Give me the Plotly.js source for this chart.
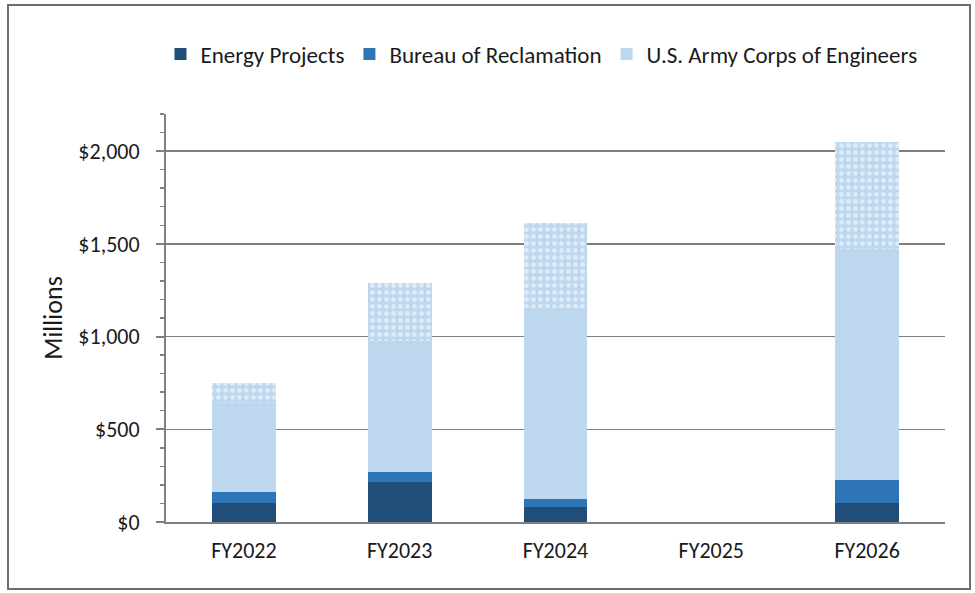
<!DOCTYPE html>
<html>
<head>
<meta charset="utf-8">
<script src="https://cdn.plot.ly/plotly-3.0.1.min.js"></script>
<style>
  html, body { margin: 0; padding: 0; background: #fff; }
  #frame { position: absolute; left: 7px; top: 4px; width: 964px; height: 586px; border: 2px solid #6e6e6e; box-sizing: border-box; }
  #chart { position: absolute; left: 0; top: 0; width: 960px; height: 582px; }
</style>
</head>
<body>
<div id="frame"><div id="chart"></div></div>
<script>
const categories = ["FY2022", "FY2023", "FY2024", "FY2025", "FY2026"];
const energyProjects = [101, 217, 79, null, 101];
const bureauOfReclamation = [62, 51, 43, null, 125];
const armyCorps = [478, 707, 1030, null, 1244];
const armyCorpsPatterned = [107, 312, 461, null, 579];
const yTickVals = [0, 500, 1000, 1500, 2000];
const yTickText = ["$0", "$500", "$1,000", "$1,500", "$2,000"];

const FONT = "Carlito, Calibri, Lato, 'Liberation Sans', sans-serif";

const traces = [
  { type: "bar", name: "Energy Projects", x: categories, y: energyProjects,
    marker: { color: "#1F4E79", line: { width: 0 } } },
  { type: "bar", name: "Bureau of Reclamation", x: categories, y: bureauOfReclamation,
    marker: { color: "#2E75B6", line: { width: 0 } } },
  { type: "bar", name: "U.S. Army Corps of Engineers", x: categories, y: armyCorps,
    marker: { color: "#BDD7EE", line: { width: 0 } } },
  { type: "bar", name: "U.S. Army Corps of Engineers (additional)", x: categories, y: armyCorpsPatterned,
    showlegend: false,
    marker: { color: "#BDD7EE", line: { width: 0 },
      pattern: { shape: ".", fillmode: "overlay", fgcolor: "#ffffff", bgcolor: "#BDD7EE", size: 7, solidity: 0.4 } } }
];

const layout = {
  width: 960, height: 582,
  barmode: "stack",
  bargap: 0.59,
  paper_bgcolor: "#ffffff",
  plot_bgcolor: "#ffffff",
  margin: { l: 157, r: 24, t: 108, b: 66 },
  font: { family: FONT, size: 22, color: "#1a1a1a" },
  showlegend: true,
  legend: {
    orientation: "h", x: 0.482, xanchor: "center", y: 1.147, yanchor: "middle",
    font: { family: FONT, size: 23, color: "#1a1a1a" },
    traceorder: "normal", itemwidth: 30
  },
  xaxis: {
    type: "category",
    showline: true, linecolor: "#7f7f7f", linewidth: 2,
    ticks: "", showgrid: false,
    ticklabelstandoff: 8,
    tickfont: { family: FONT, size: 22, color: "#1a1a1a" }
  },
  yaxis: {
    range: [0, 2200],
    tickvals: yTickVals, ticktext: yTickText,
    showline: true, linecolor: "#7f7f7f", linewidth: 2,
    ticks: "outside", ticklen: 8, tickcolor: "#7f7f7f", tickwidth: 2,
    ticklabelstandoff: 12,
    showgrid: true, gridcolor: "#7f7f7f", gridwidth: 1.5,
    zeroline: false,
    minor: { dtick: 100, ticks: "outside", ticklen: 4, tickcolor: "#7f7f7f", tickwidth: 1.5, showgrid: false },
    tickfont: { family: FONT, size: 22, color: "#1a1a1a" },
    title: { text: "Millions", font: { family: FONT, size: 26, color: "#1a1a1a" }, standoff: 8 }
  }
};

Plotly.newPlot("chart", traces, layout, { displayModeBar: false, staticPlot: true });
</script>
</body>
</html>
